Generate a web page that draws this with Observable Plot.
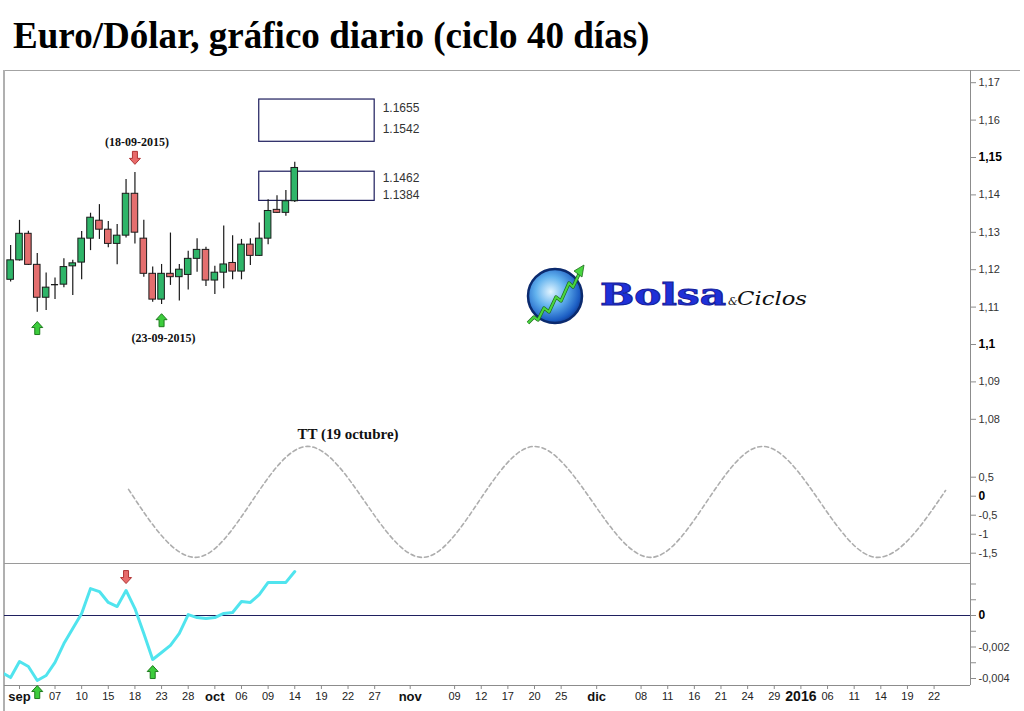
<!DOCTYPE html>
<html>
<head>
<meta charset="utf-8">
<script src="https://cdn.jsdelivr.net/npm/d3@7"></script>
<script src="https://cdn.jsdelivr.net/npm/@observablehq/plot@0.6"></script>
<style>
  html, body { margin: 0; padding: 0; background: #fff; }
  #wrap { position: relative; width: 1024px; height: 711px; overflow: hidden; background: #fff; }
  #title { position: absolute; left: 13px; top: 18px; font: bold 37.1px "Liberation Serif", "Times New Roman", serif; line-height: 36px; color: #000; white-space: nowrap; }
  .layer { position: absolute; left: 0; }
  .ln { position: absolute; background: #a3a3a3; }
</style>
</head>
<body>
<div id="wrap">
  <div id="title">Euro/Dólar, gráfico diario (ciclo 40 días)</div>
  <div class="ln" style="left:4px;top:70px;width:1016px;height:1px;"></div>
  <div class="ln" style="left:3px;top:70px;width:2px;height:641px;background:#b0b0b0;"></div>
  <div class="ln" style="left:970px;top:70px;width:1px;height:615px;background:#8c8c8c;"></div>
  <div class="ln" style="left:4px;top:563px;width:966px;height:1px;background:#9a9a9a;"></div>
  <div class="ln" style="left:4px;top:685px;width:966px;height:1px;background:#8c8c8c;"></div>
  <div id="cyclePanel" class="layer" style="top:70px;"></div>
  <div id="pricePanel" class="layer" style="top:70px;"></div>
  <div id="indPanel" class="layer" style="top:563px;"></div>
  <svg id="logo" width="310" height="80" viewBox="512 256 310 80" style="position:absolute;left:512px;top:256px;">
    <defs>
      <radialGradient id="globe" cx="0.42" cy="0.42" r="0.62">
        <stop offset="0" stop-color="#e2f4ff"/>
        <stop offset="0.45" stop-color="#62b2ee"/>
        <stop offset="0.85" stop-color="#1d5fc4"/>
        <stop offset="1" stop-color="#0e3a94"/>
      </radialGradient>
    </defs>
    <circle cx="555" cy="296" r="27" fill="url(#globe)" stroke="#0b2a6e" stroke-width="2.5"/>
    <polyline points="528,323 534,317 538,320 544,308 549,312 556,297 561,301 569,283 573,287 580,272" fill="none" stroke="#1f6b1f" stroke-width="3.4" stroke-linejoin="round"/>
    <polyline points="528,323 534,317 538,320 544,308 549,312 556,297 561,301 569,283 573,287 580,272" fill="none" stroke="#49d63f" stroke-width="2" stroke-linejoin="round"/>
    <path d="M584,265 L574,271 L582,277 Z" fill="#49d63f" stroke="#1f6b1f" stroke-width="0.8"/>
    <text x="600" y="305" font-family="DejaVu Serif" font-weight="bold" font-size="29" fill="#1f30d8" stroke="#14209a" stroke-width="0.9" textLength="126" lengthAdjust="spacingAndGlyphs">Bolsa</text>
    <text x="728" y="305" font-family="DejaVu Serif" font-style="italic" font-size="11" fill="#111">&amp;</text>
    <text x="737" y="305" font-family="DejaVu Serif" font-style="italic" font-size="19" fill="#111" textLength="70" lengthAdjust="spacingAndGlyphs">Ciclos</text>
  </svg>
</div>
<script>
// ---------------- DATA ----------------
const candleDates = ["2015-08-31","2015-09-01","2015-09-02","2015-09-03","2015-09-04","2015-09-07","2015-09-08","2015-09-09","2015-09-10","2015-09-11","2015-09-14","2015-09-15","2015-09-16","2015-09-17","2015-09-18","2015-09-21","2015-09-22","2015-09-23","2015-09-24","2015-09-25","2015-09-28","2015-09-29","2015-09-30","2015-10-01","2015-10-02","2015-10-05","2015-10-06","2015-10-07","2015-10-08","2015-10-09","2015-10-12","2015-10-13","2015-10-14"];
const openVals  = [1.1173,1.1225,1.1296,1.1213,1.1125,1.1160,1.1160,1.1209,1.1219,1.1283,1.1331,1.1307,1.1269,1.1291,1.1403,1.1283,1.1189,1.1120,1.1189,1.1180,1.1186,1.1229,1.1253,1.1171,1.1192,1.1218,1.1195,1.1267,1.1237,1.1283,1.1360,1.1352,1.1383];
const highVals  = [1.1265,1.1332,1.1303,1.1243,1.1191,1.1178,1.1229,1.1225,1.1302,1.1351,1.1374,1.1329,1.1321,1.1441,1.1460,1.1332,1.1207,1.1214,1.1298,1.1214,1.1249,1.1283,1.1260,1.1209,1.1317,1.1291,1.1281,1.1283,1.1325,1.1387,1.1398,1.1412,1.1487];
const lowVals   = [1.1167,1.1223,1.1211,1.1086,1.1091,1.1120,1.1152,1.1131,1.1173,1.1251,1.1281,1.1259,1.1213,1.1285,1.1269,1.1180,1.1113,1.1107,1.1158,1.1116,1.1146,1.1193,1.1155,1.1134,1.1149,1.1173,1.1173,1.1211,1.1235,1.1267,1.1350,1.1343,1.1380];
const closeVals = [1.1225,1.1296,1.1213,1.1125,1.1152,1.1160,1.1207,1.1217,1.1283,1.1339,1.1307,1.1269,1.1291,1.1403,1.1299,1.1189,1.1120,1.1189,1.1180,1.1200,1.1229,1.1253,1.1171,1.1192,1.1214,1.1195,1.1267,1.1237,1.1283,1.1357,1.1352,1.1383,1.1472];

const indicatorDates = ["2015-08-28"].concat(candleDates);
const indicatorVals = [-0.00362,-0.00394,-0.00292,-0.00324,-0.00413,-0.00381,-0.00298,-0.00178,-0.00083,0.00013,0.00171,0.00152,0.00083,0.00057,0.00159,0.00044,-0.00114,-0.00279,-0.00235,-0.00190,-0.00114,0.00006,-0.00013,-0.00019,-0.00013,0.00013,0.00019,0.00089,0.00083,0.00133,0.00210,0.00210,0.00210,0.00279];

// cycle turning points: position in trading days from 31-08-2015, cycle value
const cycleDays = [13.28, 20.82, 33.44, 46.39, 59.0, 72.07, 84.68, 97.63, 105.29];
const cycleVals = [0.18, -1.61, 1.31, -1.61, 1.31, -1.61, 1.31, -1.61, 0.15];

const zoneStart = "2015-10-08", zoneEnd = "2015-10-27";
const zoneHigh = [1.1655, 1.1462];
const zoneLow  = [1.1542, 1.1384];

const noteDates  = ["2015-09-18", "2015-09-23"];
const notePrices = [1.1542, 1.1017];
const noteLabels = ["(18-09-2015)", "(23-09-2015)"];

const priceArrowDates = ["2015-09-03", "2015-09-18", "2015-09-23"];
const priceArrowVals  = [1.1044, 1.1499, 1.1065];
const priceArrowDirs  = ["up", "down", "up"];

const indArrowDates = ["2015-09-03", "2015-09-17", "2015-09-22"];
const indArrowVals  = [-0.00486, 0.00244, -0.00359];
const indArrowDirs  = ["up", "down", "up"];

const cycleNoteDate = "2015-10-22", cycleNoteVal = 1.64, cycleNoteLabel = "TT (19 octubre)";

const priceTicks = [1.17, 1.16, 1.14, 1.13, 1.12, 1.11, 1.09, 1.08];
const priceBoldTicks = [1.15, 1.10];
const cycleTicks = [0.5, -0.5, -1, -1.5];
const cycleBoldTicks = [0];
const indTicks = [0.002, 0.001, -0.001, -0.002, -0.003, -0.004];
const indTickLabels = ["", "", "", "-0,002", "", "-0,004"];
const indBoldTicks = [0];

const dayTickDates = ["2015-09-07","2015-09-10","2015-09-15","2015-09-18","2015-09-23","2015-09-28","2015-10-06","2015-10-09","2015-10-14","2015-10-19","2015-10-22","2015-10-27","2015-11-09","2015-11-12","2015-11-17","2015-11-20","2015-11-25","2015-12-08","2015-12-11","2015-12-16","2015-12-21","2015-12-24","2015-12-29","2016-01-06","2016-01-11","2016-01-14","2016-01-19","2016-01-22"];
const dayTickLabels = ["07","10","15","18","23","28","06","09","14","19","22","27","09","12","17","20","25","08","11","16","21","24","29","06","11","14","19","22"];
const monthTickDates = ["2015-09-01","2015-10-01","2015-11-02","2015-12-01"];
const monthTickLabels = ["sep","oct","nov","dic"];
const yearTickDates = ["2016-01-01"];
const yearTickLabels = ["2016"];

// ---------------- HELPERS ----------------
const origin = Date.UTC(2015, 7, 31);
function tradingIndex(s) {
  const t = Date.parse(s + "T00:00:00Z");
  const step = t >= origin ? 1 : -1;
  let cur = new Date(origin), n = 0;
  while (cur.getTime() !== t) {
    cur.setUTCDate(cur.getUTCDate() + step);
    const w = cur.getUTCDay();
    if (w !== 0 && w !== 6) n += step;
  }
  return n;
}
const fmtComma = d => String(Math.round(d * 1000) / 1000).replace(".", ",");
const arrowUp = { draw(c) { c.moveTo(0,-6.5); c.lineTo(5.5,-0.5); c.lineTo(2.5,-0.5); c.lineTo(2.5,6.5); c.lineTo(-2.5,6.5); c.lineTo(-2.5,-0.5); c.lineTo(-5.5,-0.5); c.closePath(); } };
const arrowDown = { draw(c) { c.moveTo(0,6.5); c.lineTo(5.5,0.5); c.lineTo(2.5,0.5); c.lineTo(2.5,-6.5); c.lineTo(-2.5,-6.5); c.lineTo(-2.5,0.5); c.lineTo(-5.5,0.5); c.closePath(); } };

const GREEN = "#2fb569", RED = "#e46f6f", EDGE = "#1a1a1a";
const SANS = "Liberation Sans, Arial, sans-serif";
const SERIF = "Liberation Serif, Times New Roman, serif";
const xDomain = [-0.689, 108.1];
const common = { width: 1024, marginLeft: 4, marginRight: 54, style: { background: "transparent", overflow: "visible", fontFamily: SANS } };

const candles = candleDates.map((d, k) => ({ i: tradingIndex(d), open: openVals[k], high: highVals[k], low: lowVals[k], close: closeVals[k] }));
const ups = candles.filter(d => d.close - d.open > 0.0002);
const downs = candles.filter(d => d.open - d.close > 0.0002);
const dojis = candles.filter(d => Math.abs(d.close - d.open) <= 0.0002);
const zones = zoneHigh.map((h, k) => ({ s: tradingIndex(zoneStart), e: tradingIndex(zoneEnd), high: h, low: zoneLow[k] }));
const notes = noteDates.map((d, k) => ({ i: tradingIndex(d), y: notePrices[k], label: noteLabels[k] }));
const pArrows = priceArrowDates.map((d, k) => ({ i: tradingIndex(d), y: priceArrowVals[k], dir: priceArrowDirs[k] }));
const iArrows = indArrowDates.map((d, k) => ({ i: tradingIndex(d), y: indArrowVals[k], dir: indArrowDirs[k] }));
const indicator = indicatorDates.map((d, k) => ({ i: tradingIndex(d), v: indicatorVals[k] }));
const cycle = cycleDays.map((x, k) => ({ i: x, v: cycleVals[k] }));

const arrowMarks = (arr) => [
  Plot.dot(arr.filter(d => d.dir === "up"), { x: "i", y: "y", symbol: arrowUp, r: 6, fill: "#3ccc3c", stroke: "#1d7a1d", strokeWidth: 1 }),
  Plot.dot(arr.filter(d => d.dir === "down"), { x: "i", y: "y", symbol: arrowDown, r: 6, fill: "#e86a6a", stroke: "#b03434", strokeWidth: 1 })
];

// ---------------- PRICE PANEL ----------------
const zoneText = (z, key, dy) => Plot.text([z], { x: "e", y: key, text: d => d[key].toFixed(4), dx: 8, dy, textAnchor: "start", fontSize: 12, fill: "#333", fontFamily: SANS });
const pricePlot = Plot.plot({
  ...common, height: 493, marginTop: 0, marginBottom: 0,
  x: { domain: xDomain, label: null, axis: null },
  y: { domain: [1.08, 1.17], range: [348.8, 12.2], label: null },
  marks: [
    Plot.axisY({ anchor: "right", ticks: priceTicks, tickFormat: fmtComma, tickSize: 5, tickPadding: 3, fontSize: 11, fill: "#333", stroke: "#8c8c8c" }),
    Plot.axisY({ anchor: "right", ticks: priceBoldTicks, tickFormat: fmtComma, tickSize: 5, tickPadding: 3, fontSize: 12, fontWeight: "bold", fill: "#000", stroke: "#8c8c8c" }),
    Plot.rect(zones, { x1: "s", x2: "e", y1: "low", y2: "high", fill: "none", stroke: "#1c1c5c", strokeWidth: 1.2 }),
    zoneText(zones[0], "high", 9), zoneText(zones[0], "low", -13),
    zoneText(zones[1], "high", 6), zoneText(zones[1], "low", -6),
    Plot.ruleX(candles, { x: "i", y1: "low", y2: "high", stroke: EDGE, strokeWidth: 1.2 }),
    Plot.rect(ups, { x1: d => d.i - 0.37, x2: d => d.i + 0.37, y1: "open", y2: "close", fill: GREEN, stroke: EDGE, strokeWidth: 1 }),
    Plot.rect(downs, { x1: d => d.i - 0.37, x2: d => d.i + 0.37, y1: "open", y2: "close", fill: RED, stroke: EDGE, strokeWidth: 1 }),
    Plot.ruleY(dojis, { x1: d => d.i - 0.4, x2: d => d.i + 0.4, y: "close", stroke: EDGE, strokeWidth: 1.3 }),
    ...arrowMarks(pArrows),
    Plot.text(notes, { x: "i", y: "y", text: "label", dx: 2, fontSize: 12, fontWeight: "bold", fontFamily: SERIF, fill: "#111" })
  ]
});
document.getElementById("pricePanel").appendChild(pricePlot);

// ---------------- CYCLE PANEL ----------------
const cyclePlot = Plot.plot({
  ...common, height: 493, marginTop: 0, marginBottom: 0,
  x: { domain: xDomain, label: null, axis: null },
  y: { domain: [-1.5, 0.5], range: [482.7, 406.7], label: null },
  marks: [
    Plot.axisY({ anchor: "right", ticks: cycleTicks, tickFormat: fmtComma, tickSize: 5, tickPadding: 3, fontSize: 11, fill: "#333", stroke: "#8c8c8c" }),
    Plot.axisY({ anchor: "right", ticks: cycleBoldTicks, tickFormat: fmtComma, tickSize: 5, tickPadding: 3, fontSize: 12, fontWeight: "bold", fill: "#000", stroke: "#8c8c8c" }),
    Plot.line(cycle, { x: "i", y: "v", curve: "monotone-x", stroke: "#adadad", strokeWidth: 1.6, strokeDasharray: "4,3" }),
    Plot.text([{ i: tradingIndex(cycleNoteDate), v: cycleNoteVal, label: cycleNoteLabel }], { x: "i", y: "v", text: "label", fontSize: 15, fontWeight: "bold", fontFamily: SERIF, fill: "#111" })
  ]
});
document.getElementById("cyclePanel").appendChild(cyclePlot);

// ---------------- INDICATOR PANEL ----------------
const dayIdx = dayTickDates.map(tradingIndex), monthIdx = monthTickDates.map(tradingIndex), yearIdx = yearTickDates.map(tradingIndex);
const labelMap = new Map();
dayIdx.forEach((x, k) => labelMap.set(x, dayTickLabels[k]));
monthIdx.forEach((x, k) => labelMap.set(x, monthTickLabels[k]));
yearIdx.forEach((x, k) => labelMap.set(x, yearTickLabels[k]));
const indLabelMap = new Map(indTicks.map((t, k) => [t, indTickLabels[k]]));

const indPlot = Plot.plot({
  ...common, height: 148, marginTop: 0, marginBottom: 26,
  x: { domain: xDomain, label: null },
  y: { domain: [-0.004, 0.002], range: [115, 20.5], label: null },
  marks: [
    Plot.ruleY([0], { stroke: "#1f2060", strokeWidth: 1 }),
    Plot.axisY({ anchor: "right", ticks: indTicks, tickFormat: d => indLabelMap.get(d), tickSize: 5, tickPadding: 3, fontSize: 11, fill: "#333", stroke: "#8c8c8c" }),
    Plot.axisY({ anchor: "right", ticks: indBoldTicks, tickFormat: () => "0", tickSize: 5, tickPadding: 3, fontSize: 12, fontWeight: "bold", fill: "#000", stroke: "#8c8c8c" }),
    Plot.axisX({ anchor: "bottom", ticks: dayIdx, tickFormat: d => labelMap.get(d), tickSize: 4, tickPadding: 3, fontSize: 11, fill: "#222", stroke: "#8c8c8c" }),
    Plot.axisX({ anchor: "bottom", ticks: monthIdx, tickFormat: d => labelMap.get(d), tickSize: 4, tickPadding: 2, fontSize: 13, fontWeight: "bold", fill: "#111", stroke: "#8c8c8c" }),
    Plot.axisX({ anchor: "bottom", ticks: yearIdx, tickFormat: d => labelMap.get(d), tickSize: 4, tickPadding: 2, fontSize: 14, fontWeight: "bold", fill: "#111", stroke: "#8c8c8c" }),
    Plot.line(indicator, { x: "i", y: "v", stroke: "#50e4ee", strokeWidth: 3, clip: true }),
    ...arrowMarks(iArrows)
  ]
});
document.getElementById("indPanel").appendChild(indPlot);
</script>
</body>
</html>
